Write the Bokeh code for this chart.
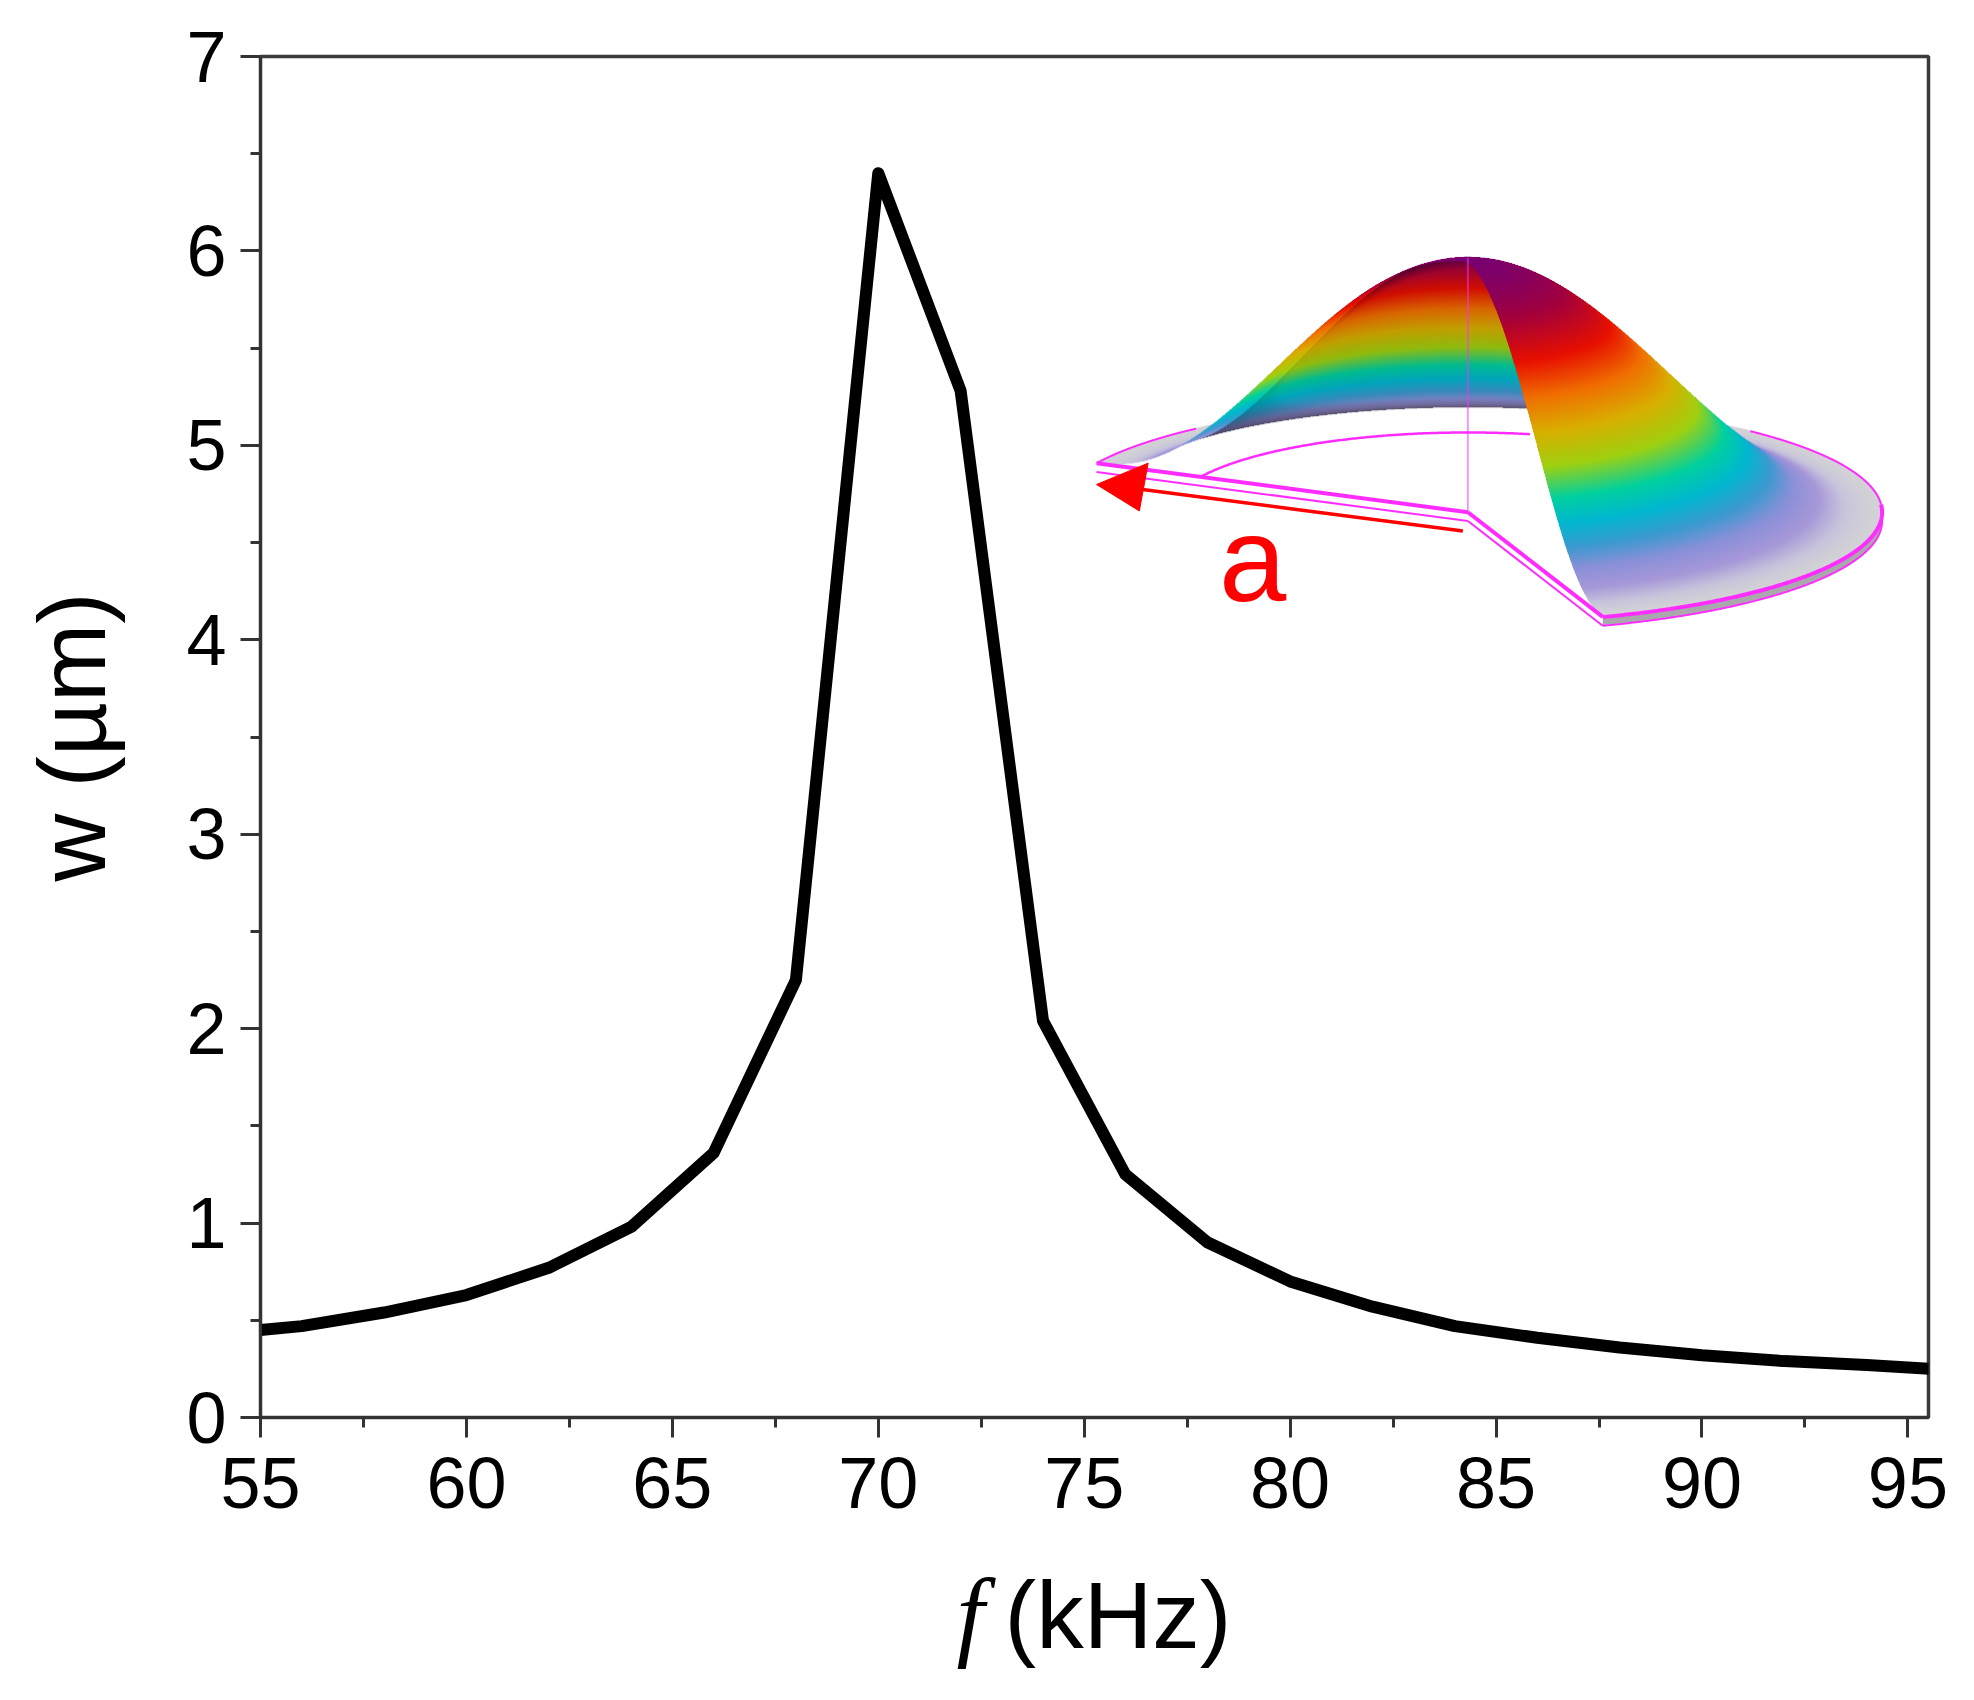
import numpy as np
from bokeh.plotting import figure
from bokeh.layouts import column
from bokeh.models import Label, FixedTicker, Range1d
from bokeh.embed import file_html
from bokeh.resources import INLINE

# ---------- chart data ----------
freq_khz = [55, 56, 58, 60, 62, 64, 66, 68, 70, 72, 74, 76, 78, 80, 82, 84, 86, 88, 90, 92, 94, 96]
deflection_um = [0.45, 0.47, 0.54, 0.63, 0.77, 0.98, 1.36, 2.25, 6.40, 5.28, 2.04, 1.25,
                 0.90, 0.70, 0.57, 0.47, 0.41, 0.36, 0.32, 0.29, 0.27, 0.245]
x_major = [55, 60, 65, 70, 75, 80, 85, 90, 95]
x_minor = [57.5, 62.5, 67.5, 72.5, 77.5, 82.5, 87.5, 92.5]
y_major = [0, 1, 2, 3, 4, 5, 6, 7]
y_minor = [0.5, 1.5, 2.5, 3.5, 4.5, 5.5, 6.5]

# ---------- layout (picture pixels) ----------
L, R, T, B = 260.5, 1928.5, 56.5, 1418.0
X0, X1, Y0, Y1 = 55.0, 95.5, 0.0, 7.0
FW, FH, STRIP = 1958, 1530, 162
STRIP_INSET = 33     # the strip's frame starts this far below the plot's nominal height
def dx(px): return X0 + (np.asarray(px, float) - L) * (X1 - X0) / (R - L)
def dy(py): return Y0 + (B - np.asarray(py, float)) * (Y1 - Y0) / (B - T)

p = figure(width=FW, height=FH, output_backend="svg", toolbar_location=None,
           x_range=Range1d(X0, X1), y_range=Range1d(Y0, Y1),
           frame_width=int(R - L), frame_height=int(B - T),
           min_border_left=int(L), min_border_top=int(T),
           min_border_right=int(FW - R), min_border_bottom=int(FH - B))
p.background_fill_color = "white"
p.border_fill_color = "white"
p.grid.visible = False
p.outline_line_color = "#3a3a3a"
p.outline_line_width = 3.5

for ax, maj, mnr in ((p.xaxis[0], x_major, x_minor), (p.yaxis[0], y_major, y_minor)):
    ax.ticker = FixedTicker(ticks=maj, minor_ticks=mnr)
    ax.axis_line_color = "#333333"
    ax.axis_line_width = 3
    ax.major_tick_line_color = "#333333"
    ax.major_tick_line_width = 3
    ax.major_tick_in = 0
    ax.major_tick_out = 20
    ax.minor_tick_line_color = "#333333"
    ax.minor_tick_line_width = 3
    ax.minor_tick_in = 0
    ax.minor_tick_out = 10
    ax.major_label_text_font = "Liberation Sans"
    ax.major_label_text_font_size = "72px"
    ax.major_label_text_color = "#000000"
p.xaxis[0].major_label_standoff = 20
p.yaxis[0].major_label_standoff = 14

p.yaxis[0].axis_label = "w (µm)"
p.yaxis[0].axis_label_text_font = "Liberation Sans"
p.yaxis[0].axis_label_text_font_style = "normal"
p.yaxis[0].axis_label_text_font_size = "94px"
p.yaxis[0].axis_label_text_color = "#000000"
p.yaxis[0].axis_label_standoff = 58

# ---------- curve ----------
p.line(freq_khz, deflection_um, line_color="black", line_width=12, line_join="round", line_cap="round")

# ---------- x axis title in a strip below the plot: italic f, then the unit ----------
strip = figure(width=FW, height=STRIP, frame_width=int(R - L), frame_height=STRIP,
               output_backend="svg", toolbar_location=None,
               x_axis_type=None, y_axis_type=None,
               x_range=Range1d(0, int(R - L)), y_range=Range1d(0, STRIP),
               min_border_left=int(L), min_border_right=int(FW - R), min_border_top=0, min_border_bottom=0)
strip.grid.visible = False
strip.outline_line_color = None
strip.background_fill_color = "white"
strip.border_fill_color = "white"
title_base = FH + STRIP_INSET + STRIP - 1648
strip.add_layout(Label(x=956 - int(L), y=title_base, text="f", text_font="Liberation Serif",
                       text_font_style="italic", text_font_size="100px", text_color="black",
                       text_baseline="alphabetic"))
strip.add_layout(Label(x=1004 - int(L), y=title_base, text="(kHz)", text_font="Liberation Sans",
                       text_font_size="95px", text_color="black", text_baseline="alphabetic"))

# ---------- inset: cut-away membrane, rendered from a small model ----------
S = 1974 / 1568
cx, cy = 1166 * S, 407 * S        # membrane centre
a, b = 329 * S, 88 * S            # rim ellipse semi-axes
H = 198 * S                       # apex height
thick = 7 * S
th0, th1 = np.radians(-71.0), np.radians(153.7)
inner = 0.72

stops_t = [0.00, 0.03, 0.08, 0.15, 0.22, 0.30, 0.38, 0.48, 0.58, 0.68, 0.78, 0.90, 1.00]
stops_r = [0xd2, 0xc8, 0xa8, 0x8a, 0x3c, 0x00, 0x00, 0xa0, 0xd8, 0xf0, 0xe8, 0xa0, 0x78]
stops_g = [0xd2, 0xc4, 0x98, 0x90, 0x9a, 0xb8, 0xd0, 0xd0, 0xb0, 0x70, 0x10, 0x00, 0x00]
stops_b = [0xd6, 0xdc, 0xd8, 0xd8, 0xd0, 0xd0, 0xa0, 0x10, 0x00, 0x00, 0x00, 0x40, 0x70]

SS = 2
ix0, ix1, iy0, iy1 = 1080, 1900, 240, 640
W, Ht = (ix1 - ix0) * SS, (iy1 - iy0) * SS
buf = np.ones((Ht, W, 3), np.float32)
cov = np.zeros((Ht, W), np.float32)

s_g, t_g = np.meshgrid(np.linspace(0, 1, 1400, dtype=np.float32),
                       np.linspace(th0, th1, 3600, dtype=np.float32))
s_g, t_g = s_g.ravel(), t_g.ravel()
base = np.clip(1 - s_g ** 2, 0, 1)
w = base ** 2.4
dw = -4.8 * s_g * base ** 1.4
sn, cs = np.sin(t_g), np.cos(t_g)
sx = cx + a * s_g * cs
sy = cy - b * s_g * sn - H * w
face = b + H * dw * sn              # < 0 where the underside faces the viewer
tcol = base ** 2
rgb = np.stack([np.interp(tcol, stops_t, c) for c in (stops_r, stops_g, stops_b)], axis=1) / 255.0
shade = np.where(face < 0, 0.40 + 0.50 * np.clip(-face / (0.6 * H), 0, 1), 1.0)
bright_edge = t_g > np.radians(141.0)
shade = np.where(bright_edge, 1.0, shade)
rgb = rgb * shade[:, None]
order = np.argsort(-(s_g * sn))     # paint far to near
ii = ((sx - ix0) * SS).astype(int)[order]
jj = ((sy - iy0) * SS).astype(int)[order]
ok = (ii >= 0) & (ii < W) & (jj >= 0) & (jj < Ht)
buf[jj[ok], ii[ok]] = rgb[order][ok]
cov[jj[ok], ii[ok]] = 1.0

# rim side wall
t_w, z_w = np.meshgrid(np.linspace(th0, np.radians(4), 2400), np.linspace(0, thick, 24))
wx = ((cx + a * np.cos(t_w) - ix0) * SS).astype(int).ravel()
wy = ((cy - b * np.sin(t_w) + z_w - iy0) * SS).astype(int).ravel()
buf[wy, wx] = np.array([0.66, 0.66, 0.68], np.float32)
cov[wy, wx] = 1.0

# downsample to page pixels
buf = buf.reshape(Ht // SS, SS, W // SS, SS, 3).mean(axis=(1, 3))
cov = cov.reshape(Ht // SS, SS, W // SS, SS).mean(axis=(1, 3))
img = np.zeros(cov.shape, dtype=np.uint32)
view = img.view(dtype=np.uint8).reshape((*cov.shape, 4))
view[..., :3] = np.clip(buf * 255, 0, 255).astype(np.uint8)
view[..., 3] = np.clip(cov * 255, 0, 255).astype(np.uint8)
p.image_rgba(image=[img[::-1]], x=float(dx(ix0)), y=float(dy(iy1)),
             dw=float(dx(ix1) - dx(ix0)), dh=float(dy(iy0) - dy(iy1)))

MAG = "#ff2cff"
def arc(t0, t1, scale=1.0, drop=0.0, n=200):
    t = np.radians(np.linspace(t0, t1, n))
    return dx(cx + a * scale * np.cos(t)), dy(cy - b * scale * np.sin(t) + drop)
tl, tr = np.degrees(th1), np.degrees(th0)

# rim
p.line(*arc(47, 4), line_color=MAG, line_width=2)
p.line(*arc(4, tr), line_color=MAG, line_width=4)
p.line(*arc(4, tr, drop=thick), line_color=MAG, line_width=2)
p.line(*arc(tl, 131), line_color=MAG, line_width=2)
# inner ring
p.line(*arc(tl, 78, scale=inner), line_color=MAG, line_width=2.5)
# cut edges, top and bottom of the thin plate
for drop, lw in ((0.0, 4), (thick, 2)):
    for ang in (tl, tr):
        t = np.radians(ang)
        p.line(dx([cx, cx + a * np.cos(t)]),
               dy([cy + drop, cy - b * np.sin(t) + drop]),
               line_color=MAG, line_width=lw)
# axis of symmetry
p.line(dx([cx, cx]), dy([205 * S, cy]), line_color=MAG, line_width=1.5, line_alpha=0.65)

# red radius arrow
p.line(dx([1162 * S, 900 * S]), dy([422 * S, 388 * S]), line_color="#ff0000", line_width=3.5)
p.patch(dx([871 * S, 912 * S, 905 * S]), dy([385 * S, 368 * S, 406 * S]),
        fill_color="#ff0000", line_color="#ff0000", line_width=1)
p.add_layout(Label(x=dx(995 * S), y=dy(498 * S), text="a", text_font="Liberation Sans",
                   text_font_size="121px", text_color="#ff0000", text_align="center"))

open("out.html", "w").write(file_html(column(p, strip, spacing=0), INLINE))
